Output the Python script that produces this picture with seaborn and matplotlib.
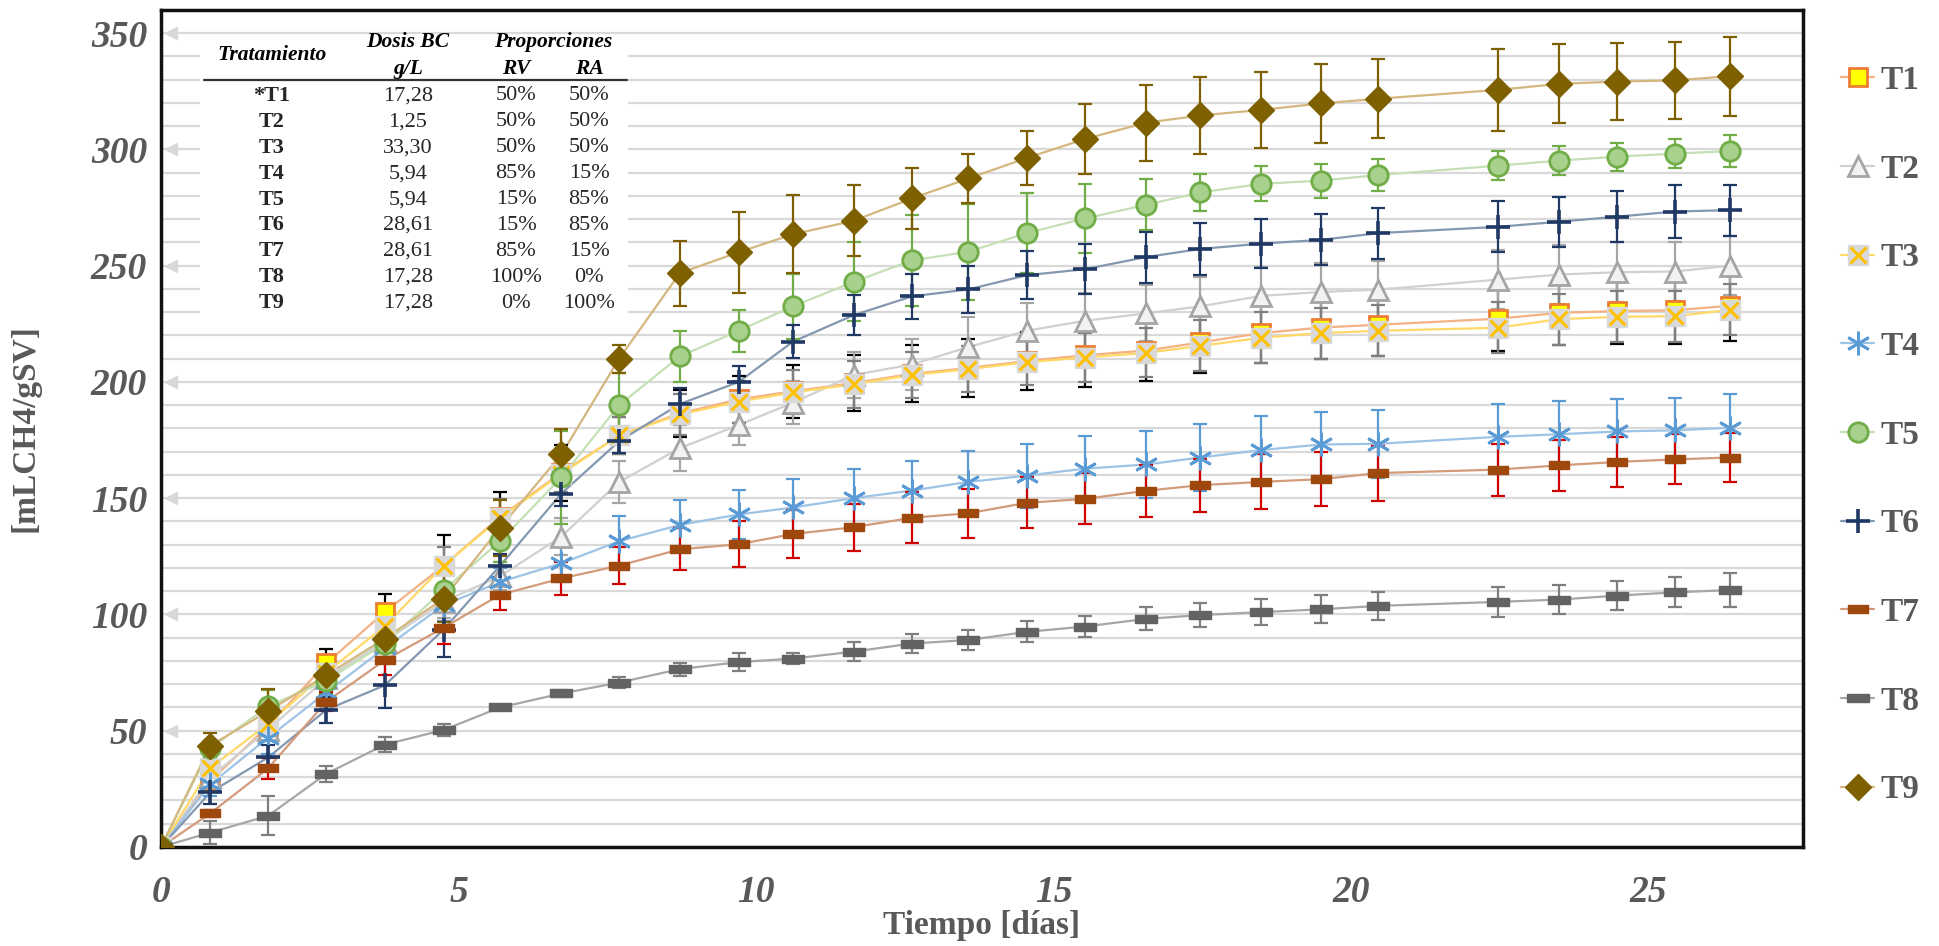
import numpy as np
import pandas as pd
import matplotlib
matplotlib.use('Agg')
import matplotlib.pyplot as plt
import seaborn as sns
from matplotlib.lines import Line2D
from matplotlib.path import Path
from matplotlib.patches import Rectangle

# tiempo de medicion (dias)
dias = [0, 0.83, 1.8, 2.78, 3.76, 4.75, 5.7, 6.73, 7.7, 8.72, 9.71, 10.62, 11.64, 12.62,
        13.57, 14.55, 15.53, 16.56, 17.47, 18.49, 19.5, 20.46, 22.47, 23.5, 24.48, 25.45, 26.37]

# produccion acumulada de metano [mLCH4/gSV]
t1 = [0, 28.5, 52, 79, 101, 121, 142, 161, 177, 186.5, 192.5, 196, 199.5, 203.5, 206, 209,
      211.5, 213.5, 217, 221, 223.4, 224.6, 227.2, 229.7, 230.5, 230.8, 232.8]
t2 = [0, 30, 50.5, 72.5, 88.5, 105.5, 116.5, 133.5, 157, 171.5, 181.5, 191, 203, 207.5, 215,
      222, 226.3, 229.5, 232.5, 237, 238.7, 239.7, 244, 246.2, 247.2, 247.5, 250]
t3 = [0, 34, 53, 75, 95, 121, 141.5, 160.5, 177, 186, 191.5, 195.5, 199, 203, 205.5, 208.5,
      210.5, 212.5, 215.5, 219, 221, 222, 223.3, 227, 228, 228.3, 231]
t4 = [0, 27, 47, 66.5, 85.5, 104, 114, 122, 131.5, 138.5, 143, 146, 150, 153.3, 157, 159.7,
      162.7, 164.5, 167.5, 170.7, 173.1, 173.4, 176.4, 177.5, 178.7, 179.2, 180.3]
t5 = [0, 42.5, 60.5, 71.5, 87.5, 110.5, 131.5, 159, 190, 211, 222, 232.5, 243, 252.3, 256, 264,
      270.3, 276.2, 281.5, 285.2, 286.6, 289, 293, 295.2, 296.9, 298.2, 299.3]
t6 = [0, 23.5, 38.5, 59, 69.5, 93.5, 121, 152, 174.5, 190.5, 200, 217.3, 228.7, 236.8, 239.8,
      245.9, 248.5, 253.7, 257.2, 259.5, 261.1, 264, 266.7, 268.9, 271.1, 273.3, 273.9]
t7 = [0, 14.5, 33.8, 62.5, 80.3, 94.3, 108.5, 115.5, 121, 128, 130.2, 134.6, 137.5, 141.6, 143.5,
      148, 149.7, 153.2, 155.6, 157, 158.2, 160.8, 162.3, 164.1, 165.6, 166.7, 167.5]
t8 = [0, 6.2, 13.4, 31.5, 44, 50.3, 60, 66, 70.7, 76.5, 79.5, 81, 84, 87.5, 89, 92.5, 94.8, 98.1,
      99.7, 101, 102.2, 103.7, 105.4, 106.4, 108.1, 109.5, 110.5]
t9 = [0, 43.6, 58.4, 73.9, 89.6, 106.8, 137.3, 168.8, 210, 246.8, 255.8, 263.5, 269.3, 278.9,
      287.5, 296.3, 304.5, 311.5, 314.6, 317, 319.8, 321.8, 325.6, 328.2, 329.2, 329.7, 331.5]

# desviacion estandar
e1 = [0, 4, 6, 6, 8, 13, 10.5, 12, 8, 10, 10, 11.5, 12, 12.2, 12.5, 12.6, 13.5, 13.3, 13, 13,
      13.5, 13.5, 14, 14, 14, 14.5, 15]
e2 = [0, 3, 5, 5, 5, 7, 6, 8, 9, 10, 8.6, 9.3, 10, 11, 13, 12, 12, 12, 12.5, 12.5, 12.5, 12.5,
      12.8, 12.8, 12.8, 12.8, 12.8]
e3 = [0, 3, 4, 5, 6, 8, 8, 8, 8, 9, 9, 9.5, 10, 10, 10, 10, 10.5, 10.5, 11, 11, 11, 11, 11, 11,
      11, 11, 11]
e4 = [0, 5, 7, 7, 6, 7, 6, 8, 11, 10.6, 10.5, 12.3, 12.7, 12.7, 13.5, 13.8, 14, 14.3, 14.2,
      14.5, 14, 14.7, 14, 14.5, 14, 14, 14.3]
e5 = [0, 3, 7, 5, 6, 8, 9, 20, 14, 11, 9, 14, 17, 19.7, 20.6, 17.3, 15, 11, 8, 7.5, 7.3, 7,
      6.2, 6.3, 6, 6.3, 7]
e6 = [0, 5, 5.5, 5.5, 9.6, 12, 5, 5.5, 5, 7, 7, 7, 8.7, 9.7, 10, 10.3, 10.7, 11, 11, 10.7, 11,
      11, 11, 10.8, 11, 11.5, 11]
e7 = [0, 1.5, 4.5, 4, 6.4, 7, 6.5, 7, 8, 9, 10, 10.3, 10, 11, 10.6, 11, 11, 11.2, 11.4, 11.8,
      11.6, 11.8, 11.2, 11, 10.6, 10.7, 10.6]
e8 = [0, 4.8, 8.4, 3.4, 3.3, 2.6, 0.5, 1.3, 2.5, 2.8, 4, 2.5, 4, 4, 4.5, 4.5, 4.7, 5, 5.3, 5.5,
      6, 6, 6.5, 6.3, 6.3, 6.5, 7.3]
e9 = [0, 5.5, 9.6, 8, 8, 10, 12, 11, 6, 14, 17.5, 16.8, 15.3, 13, 10.4, 11.6, 15, 16.4, 16.5,
      16.5, 17, 17, 17.5, 17, 16.5, 16.5, 17]

tratamientos = ['T1', 'T2', 'T3', 'T4', 'T5', 'T6', 'T7', 'T8', 'T9']
valores = [t1, t2, t3, t4, t5, t6, t7, t8, t9]
errores = [e1, e2, e3, e4, e5, e6, e7, e8, e9]

# tabla de tratamientos
tab_trat = ['*T1', 'T2', 'T3', 'T4', 'T5', 'T6', 'T7', 'T8', 'T9']
tab_dosis = ['17,28', '1,25', '33,30', '5,94', '5,94', '28,61', '28,61', '17,28', '17,28']
tab_rv = ['50%', '50%', '50%', '85%', '15%', '15%', '85%', '100%', '0%']
tab_ra = ['50%', '50%', '50%', '15%', '85%', '85%', '15%', '0%', '100%']

df = pd.concat([pd.DataFrame({'dia': dias, 'valor': v, 'err': e, 'trat': t})
                for t, v, e in zip(tratamientos, valores, errores)], ignore_index=True)

dash = Path([(-1, -0.36), (1, -0.36), (1, 0.36), (-1, 0.36), (-1, -0.36)],
            [Path.MOVETO, Path.LINETO, Path.LINETO, Path.LINETO, Path.CLOSEPOLY])

estilo = {
    'T1': dict(line='#F4B183', ecol='#000000',
               mk=[dict(marker='s', ms=13, mfc='#FFFF00', mec='#ED7D31', mew=2)]),
    'T2': dict(line='#D0D0D0', ecol='#A5A5A5',
               mk=[dict(marker='^', ms=14, mfc='#F2F2F2', mec='#A5A5A5', mew=2)]),
    'T3': dict(line='#FFD966', ecol='#7F7F7F',
               mk=[dict(marker='s', ms=14, mfc='#D9D9D9', mec='#D9D9D9', mew=1),
                   dict(marker='x', ms=12, mfc='none', mec='#FFC000', mew=2.2)]),
    'T4': dict(line='#9DC3E6', ecol='#5B9BD5',
               mk=[dict(marker=(6, 2, 0), ms=17, mfc='#5B9BD5', mec='#5B9BD5', mew=2)]),
    'T5': dict(line='#C5E0B4', ecol='#70AD47',
               mk=[dict(marker='o', ms=14, mfc='#A9D18E', mec='#70AD47', mew=2)]),
    'T6': dict(line='#8497B0', ecol='#203864',
               mk=[dict(marker='+', ms=17, mfc='#203864', mec='#203864', mew=2.6)]),
    'T7': dict(line='#D39B7A', ecol='#D00000',
               mk=[dict(marker=dash, ms=15, mfc='#9E480E', mec='#9E480E', mew=1)]),
    'T8': dict(line='#A6A6A6', ecol='#7F7F7F',
               mk=[dict(marker=dash, ms=16, mfc='#636363', mec='#636363', mew=1)]),
    'T9': dict(line='#D4B77E', ecol='#7F6000',
               mk=[dict(marker='D', ms=13, mfc='#7F6000', mec='#7F6000', mew=1)]),
}

sns.set_theme(style='white')
plt.rcParams['font.family'] = ['Liberation Serif', 'DejaVu Serif']

fig = plt.figure(figsize=(19.4, 9.46), dpi=100)
ax = fig.add_axes([0.083, 0.1047, 0.8464, 0.8848])

for t in tratamientos:
    sub = df[df['trat'] == t]
    st = estilo[t]
    sns.lineplot(data=sub, x='dia', y='valor', ax=ax, color=st['line'], lw=1.6,
                 estimator=None, sort=False, legend=False, zorder=2)
    ax.errorbar(sub['dia'][1:], sub['valor'][1:], yerr=sub['err'][1:], fmt='none',
                ecolor=st['ecol'], elinewidth=1.6, capsize=5, capthick=1.6, zorder=3)
    for m in st['mk']:
        ax.plot(sub['dia'], sub['valor'], ls='none', zorder=4, **m)

ax.set_xlim(0, 27.6)
ax.set_ylim(0, 360)
ax.set_xticks(range(0, 26, 5))
ax.set_yticks(range(0, 351, 50))
ax.set_yticks(range(0, 351, 10), minor=True)
ax.grid(True, which='both', axis='y', color='#D9D9D9', lw=1.6)
ax.grid(False, axis='x')
ax.set_axisbelow(True)
ax.tick_params(which='both', length=0)
ax.tick_params(axis='y', pad=10)
ax.tick_params(axis='x', pad=20)
for lab in ax.get_xticklabels() + ax.get_yticklabels():
    lab.set_fontsize(27)
    lab.set_fontstyle('italic')
    lab.set_fontweight('bold')
    lab.set_color('#595959')
for s in ax.spines.values():
    s.set_color('#111111')
    s.set_linewidth(2.5)

# flechas grises en las lineas de 50 en 50
ax.plot(np.full(7, 0.006), list(range(50, 351, 50)), ls='none', marker='<', ms=9,
        color='#D9D9D9', transform=ax.get_yaxis_transform(), zorder=1.2, clip_on=False)

ax.set_xlabel('Tiempo [días]', fontsize=24, fontweight='bold', color='#595959', labelpad=0)
ax.set_ylabel('[mLCH4/gSV]', fontsize=24, fontweight='bold', color='#595959', labelpad=36)

# cuadro blanco de la tabla
ax.add_patch(Rectangle((0.0238, 0.627), 0.2607, 0.343, transform=ax.transAxes,
                       facecolor='white', edgecolor='none', zorder=1.5))


def fx(px):
    return px / 1940


def fy(py):
    return 1 - py / 946


hdr = dict(fontsize=15.5, fontweight='bold', fontstyle='italic', color='black',
           ha='center', va='center')
fig.text(fx(272), fy(55), 'Tratamiento', **hdr)
fig.text(fx(408), fy(42), 'Dosis BC', **hdr)
fig.text(fx(408), fy(69), 'g/L', **hdr)
fig.text(fx(553), fy(42), 'Proporciones', **hdr)
fig.text(fx(516), fy(69), 'RV', **hdr)
fig.text(fx(589), fy(69), 'RA', **hdr)
fig.add_artist(Line2D([fx(204), fx(627)], [fy(80), fy(80)], color='#333333', lw=1.6))
for i in range(len(tab_trat)):
    yy = fy(96 + 25.9 * i)
    fig.text(fx(272), yy, tab_trat[i], fontsize=16, fontweight='bold', ha='center', va='center')
    fig.text(fx(408), yy, tab_dosis[i], fontsize=16, ha='center', va='center')
    fig.text(fx(516), yy, tab_rv[i], fontsize=16, ha='center', va='center')
    fig.text(fx(589), yy, tab_ra[i], fontsize=16, ha='center', va='center')

# leyenda
handles = []
for t in tratamientos:
    st = estilo[t]
    hs = [Line2D([], [], color=st['line'], lw=1.6)]
    for m in st['mk']:
        hs.append(Line2D([], [], ls='none', **m))
    handles.append(tuple(hs))
fig.legend(handles, tratamientos, loc='upper left', bbox_to_anchor=(fx(1811), fy(35)),
           frameon=False, handlelength=1.0, handletextpad=0.2, labelspacing=1.73,
           prop=dict(family='Liberation Serif', weight='bold', size=24), labelcolor='#595959')

fig.savefig('out.png', dpi=100)
